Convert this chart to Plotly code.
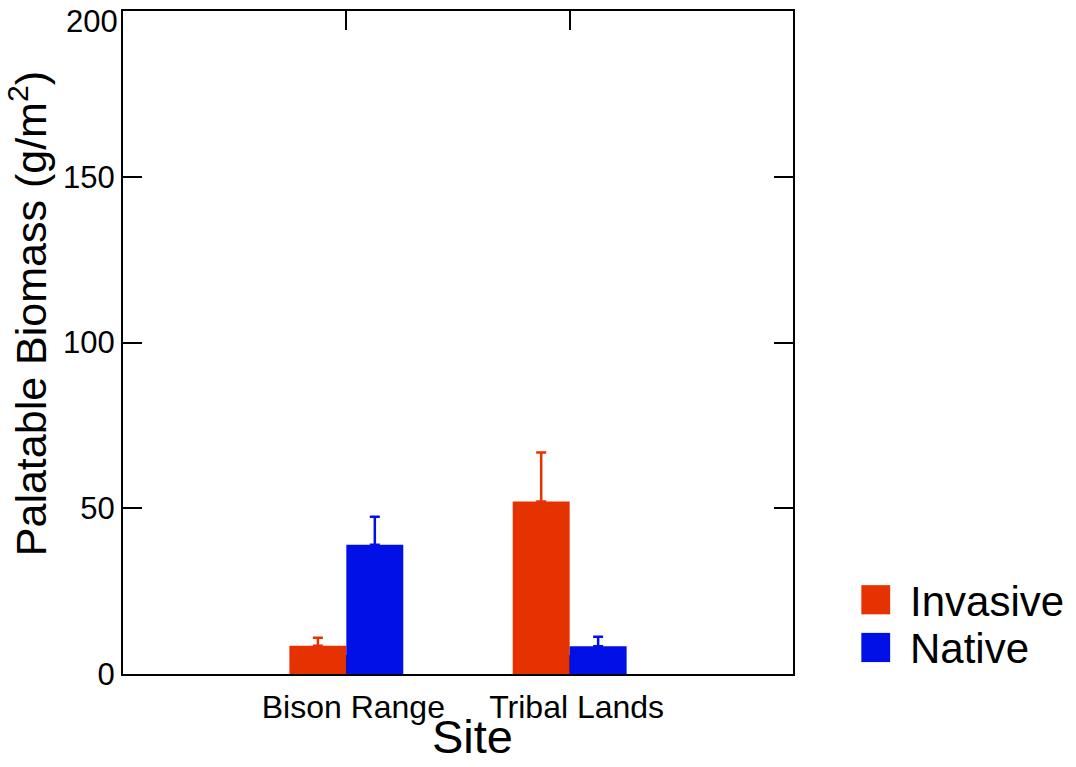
import plotly.graph_objects as go

# Palatable biomass by site and plant type (mean with upper error)
sites = ["Bison Range", "Tribal Lands"]
invasive_mean = [8.5, 52.0]
invasive_err = [2.4, 14.8]
native_mean = [39.0, 8.4]
native_err = [8.4, 2.8]
y_ticks = [0, 50, 100, 150, 200]
y_tick_labels = ["0", "50", "100", "150", "200"]

RED = "#E53200"
BLUE = "#0010E6"
FONT = "Liberation Sans, Arial, sans-serif"

fig = go.Figure()
for name, vals, errs, col in [
    ("Invasive", invasive_mean, invasive_err, RED),
    ("Native", native_mean, native_err, BLUE),
]:
    fig.add_trace(go.Bar(
        x=sites, y=vals, name=name, marker=dict(color=col, line=dict(width=0)),
        error_y=dict(type="data", symmetric=False, array=errs,
                     arrayminus=[0] * len(errs), color=col, thickness=2.5, width=5),
        showlegend=False,
    ))

axis_common = dict(
    showline=True, linecolor="black", linewidth=2, mirror="ticks",
    ticks="inside", ticklen=19, tickwidth=2, tickcolor="black",
    showgrid=False, zeroline=False, layer="below traces",
    ticklabeloverflow="allow", automargin=False,
)

# The top label is set just below its tick so it stays inside the page
fig.update_layout(
    width=1076, height=767,
    margin=dict(l=123, r=283, t=11, b=93, autoexpand=False),
    paper_bgcolor="white", plot_bgcolor="white",
    barmode="group", bargap=0.49, bargroupgap=0,
    xaxis=dict(range=[-1, 2], tickfont=dict(family=FONT, size=32, color="black"),
               ticklabelstandoff=4, ticklabelshift=7, **axis_common),
    yaxis=dict(range=[0, 200], tickvals=y_ticks,
               ticktext=y_tick_labels[:-1] + [""],
               tickfont=dict(family=FONT, size=31, color="black"), **axis_common),
)
fig.add_annotation(xref="paper", yref="y", x=0, y=y_ticks[-1], text=y_tick_labels[-1],
                   showarrow=False, xanchor="right", yanchor="middle",
                   xshift=-3, yshift=-10,
                   font=dict(family=FONT, size=31, color="black"))

# Axis titles
fig.add_annotation(xref="paper", yref="paper", x=0.521, y=-0.052, text="Site",
                   showarrow=False, xanchor="center", yanchor="top",
                   font=dict(family=FONT, size=47, color="black"))
fig.add_annotation(xref="paper", yref="paper", x=-0.142, y=0.544,
                   text="Palatable Biomass (g/m<sup>2</sup>)", textangle=-90,
                   showarrow=False, xanchor="center", yanchor="middle",
                   font=dict(family=FONT, size=43, color="black"))

# Legend drawn as swatches and labels to the right of the plot
legend_items = [("Invasive", RED), ("Native", BLUE)]
for i, (label, col) in enumerate(legend_items):
    yc = 0.112 - i * 0.072
    fig.add_shape(type="rect", xref="paper", yref="paper",
                  x0=1.102, x1=1.145, y0=yc - 0.022, y1=yc + 0.022,
                  fillcolor=col, line=dict(width=0))
    fig.add_annotation(xref="paper", yref="paper", x=1.172, y=yc - 0.002, text=label,
                       showarrow=False, xanchor="left", yanchor="middle",
                       font=dict(family=FONT, size=42, color="black"))

fig.write_html("out.html")
